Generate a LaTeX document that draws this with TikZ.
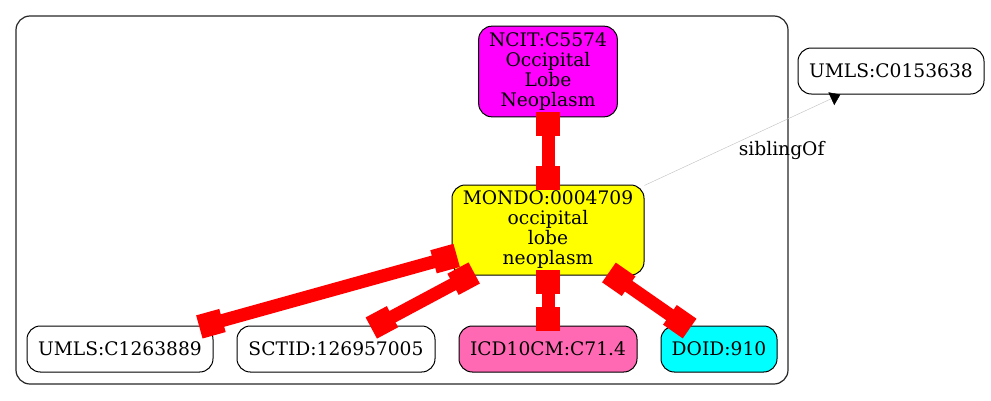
\documentclass[tikz,border=0pt]{standalone}
\usepackage{fontspec}
\setmainfont{DejaVu Serif}
\usetikzlibrary{positioning, arrows.meta}
\definecolor{ncitmagenta}{RGB}{255,0,255}
\definecolor{icdpink}{RGB}{255,105,180}
\definecolor{mondoyellow}{RGB}{255,255,0}
\definecolor{doidcyan}{RGB}{0,255,255}
\definecolor{xrefred}{RGB}{255,0,0}

\begin{document}
\begin{tikzpicture}[x=0.75pt,y=-0.75pt]
          \useasboundingbox (0,0) rectangle (991,400);
          \node (grp) [draw=black!85, line width=0.9pt, rounded corners=10.5pt, minimum width=579pt, minimum height=276pt] at (402,200) {};
          \begin{scope}[every node/.style={draw, line width=0.75pt, rounded corners=10pt, align=center, inner sep=1pt, minimum height=34.5pt, font=\fontsize{14pt}{15pt}\selectfont}]
            \node (ncit) [fill=ncitmagenta, minimum width=104pt, minimum height=68pt] at (548,71.5) {NCIT:C5574\\Occipital\\Lobe\\Neoplasm};
            \node (mondo) [fill=mondoyellow, minimum width=144pt, minimum height=67.5pt] at (548,230) {MONDO:0004709\\occipital\\lobe\\neoplasm};
            \node (umlsb) [minimum width=139.5pt] at (891,71) {UMLS:C0153638};
            \node (umlsa) [minimum width=139.5pt] at (120,349) {UMLS:C1263889};
            \node (sctid) [minimum width=148.5pt] at (336,349) {SCTID:126957005};
            \node (icd) [fill=icdpink, minimum width=133.5pt] at (548,349) {ICD10CM:C71.4};
            \node (doid) [fill=doidcyan, minimum width=87pt] at (719,349) {DOID:910};
          \end{scope}
          \begin{scope}[color=xrefred, line width=9.75pt, >={Rectangle[length=18pt,width=18pt]}, <->, shorten <=-4pt, shorten >=-4pt]
            \path (ncit) edge (mondo);
            \path (mondo) edge (umlsa);
            \path ([xshift=13.5pt]mondo.south west) edge ([xshift=30pt]sctid.north);
            \path (mondo) edge (icd);
            \path (mondo) edge (doid);
          \end{scope}
          \path (mondo) edge [draw=black!25, line width=0.3pt, -{Triangle[length=7.5pt,width=10.5pt,color=black]}] node (sib) [pos=0.7, yshift=-21.75pt, font=\fontsize{14pt}{15pt}\selectfont] {siblingOf} (umlsb);
        \end{tikzpicture}
\end{document}
